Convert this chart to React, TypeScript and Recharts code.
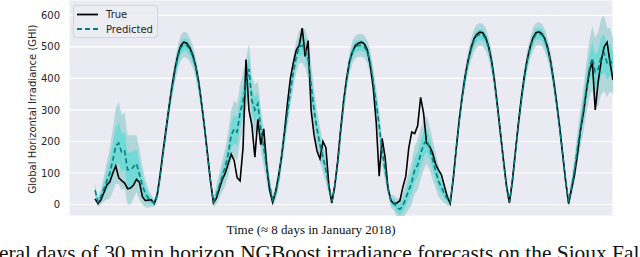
import React from "react";
import { ComposedChart, Area, Line, XAxis, YAxis, CartesianGrid } from "recharts";

// one sample every ~30 min of daylight, 20 steps per day, ~8.75 days
const trueGhi = [
  18, 3, 15, 38, 62, 72, 100, 122, 85, 76, 68, 50, 52, 62, 80, 70, 25, 12, 14, 15,
  3, 30, 95, 170, 240, 310, 375, 430, 475, 505, 515, 512, 498, 475, 440, 390, 320, 245, 160, 75,
  5, 20, 50, 80, 100, 130, 160, 140, 85, 75, 180, 460, 300, 250, 150, 270, 190, 240, 120, 45,
  7, 40, 90, 150, 230, 320, 400, 450, 490, 505, 560, 470, 520, 300, 220, 170, 145, 200, 180, 60,
  5, 60, 140, 240, 330, 400, 455, 485, 505, 512, 515, 510, 490, 440, 370, 260, 90, 210, 150, 50,
  12, 2, 5, 12, 55, 90, 180, 230, 225, 250, 340, 290, 195, 185, 165, 130, 110, 95, 60, 25,
  3, 80, 175, 265, 340, 405, 455, 495, 525, 540, 547, 545, 530, 500, 455, 390, 310, 225, 140, 60,
  5, 75, 165, 255, 335, 405, 460, 500, 530, 545, 548, 542, 525, 495, 450, 390, 320, 245, 160, 75,
  3, 50, 95, 160, 235, 290, 360, 420, 455, 300, 390, 455, 500, 515, 450, 395,
];

const predGhi = [
  45, 8, 25, 50, 75, 100, 140, 185, 195, 165, 170, 110, 110, 120, 130, 95, 60, 35, 20, 12,
  4, 28, 90, 165, 235, 305, 368, 422, 468, 498, 508, 505, 492, 470, 435, 385, 318, 242, 158, 72,
  8, 30, 60, 90, 120, 160, 220, 240, 230, 290, 330, 380, 430, 330, 300, 320, 240, 180, 120, 60,
  15, 35, 80, 150, 220, 290, 360, 420, 470, 500, 505, 495, 460, 380, 300, 240, 190, 150, 110, 55,
  10, 55, 130, 230, 320, 395, 450, 485, 500, 505, 505, 500, 485, 450, 390, 320, 250, 170, 110, 50,
  10, 5, -10, -15, -5, 20, 45, 70, 110, 125, 160, 190, 205, 180, 145, 110, 75, 55, 35, 18,
  8, 78, 170, 262, 338, 402, 452, 490, 520, 535, 540, 538, 525, 496, 452, 388, 308, 222, 138, 58,
  7, 72, 160, 250, 330, 400, 455, 495, 525, 540, 542, 538, 520, 490, 447, 388, 318, 242, 158, 72,
  8, 55, 110, 180, 240, 300, 370, 430, 465, 420, 430, 470, 480, 450, 460, 440,
];

// predicted standard deviation
const predStd = [
  10, 8, 12, 20, 30, 40, 50, 60, 65, 60, 60, 55, 55, 50, 45, 40, 30, 22, 15, 10,
  6, 10, 12, 14, 15, 16, 17, 18, 19, 20, 20, 20, 19, 18, 17, 16, 15, 14, 12, 10,
  8, 15, 20, 25, 30, 35, 40, 45, 45, 45, 45, 40, 40, 40, 40, 35, 35, 30, 25, 15,
  8, 12, 15, 18, 20, 22, 24, 25, 25, 26, 28, 30, 32, 35, 35, 30, 28, 25, 20, 12,
  7, 10, 12, 14, 15, 16, 17, 18, 18, 18, 18, 18, 18, 20, 22, 24, 25, 22, 18, 10,
  10, 12, 15, 18, 20, 25, 30, 35, 38, 40, 40, 40, 38, 35, 32, 28, 25, 20, 15, 10,
  6, 10, 12, 14, 15, 16, 17, 17, 18, 18, 18, 18, 18, 17, 17, 16, 15, 14, 12, 10,
  6, 10, 12, 14, 15, 16, 17, 17, 18, 18, 18, 18, 18, 17, 17, 16, 15, 14, 12, 10,
  8, 15, 20, 25, 30, 35, 40, 45, 50, 55, 58, 60, 60, 55, 50, 45,
];

const xGridTicks = [0, 35, 70, 105, 140];
const yTicks = [0, 100, 200, 300, 400, 500, 600];

const data = trueGhi.map((v, i) => ({
  t: i,
  ghi: v,
  pred: predGhi[i],
  outer: [predGhi[i] - 2 * predStd[i], predGhi[i] + 2 * predStd[i]],
  inner: [predGhi[i] - predStd[i], predGhi[i] + predStd[i]],
}));

const sans = "DejaVu Sans, sans-serif";
const serif = "Liberation Serif, Times New Roman, serif";

const YLabel = (props: any) => {
  const { viewBox } = props;
  const cx = 32;
  const cy = viewBox.y + viewBox.height / 2 + 1;
  return (
    <text
      x={cx}
      y={cy}
      transform={`rotate(-90, ${cx}, ${cy})`}
      textAnchor="middle"
      dominantBaseline="central"
      fontFamily={sans}
      fontSize={10}
      fill="#262626"
    >
      Global Horizontal Irradiance (GHI)
    </text>
  );
};

export default function App() {
  return (
    <div style={{ position: "absolute", left: 0, top: 0, width: 640, height: 257, background: "#fff", overflow: "hidden" }}>
      <ComposedChart width={640} height={257} data={data} margin={{ top: 0, right: 27, bottom: 41, left: 0 }}>
        <CartesianGrid stroke="#ffffff" strokeWidth={1.2} fill="#EAEAF2" />
        <XAxis
          dataKey="t"
          type="number"
          domain={[-8.8, 175]}
          ticks={xGridTicks}
          tick={false}
          tickLine={false}
          axisLine={false}
          height={0}
          allowDataOverflow
        />
        <YAxis
          type="number"
          domain={[-36.5, 649]}
          ticks={yTicks}
          width={69}
          tickSize={0}
          tickMargin={9}
          tickLine={false}
          axisLine={false}
          allowDataOverflow
          tick={{ fontFamily: sans, fontSize: 10, fill: "#262626" }}
          label={<YLabel />}
        />
        <Area dataKey="outer" stroke="none" fill="#a2d2d4" fillOpacity={0.8} isAnimationActive={false} />
        <Area dataKey="inner" stroke="none" fill="#46dad2" fillOpacity={0.6} isAnimationActive={false} />
        <Line dataKey="ghi" stroke="#000000" strokeWidth={1.6} dot={false} isAnimationActive={false} />
        <Line
          dataKey="pred"
          stroke="#008080"
          strokeWidth={1.6}
          strokeDasharray="5 3"
          dot={false}
          isAnimationActive={false}
        />
      </ComposedChart>

      <div
        style={{
          position: "absolute",
          left: 73,
          top: 5,
          width: 83,
          height: 31,
          background: "rgba(236,236,243,0.85)",
          border: "1px solid #d4d4dc",
          borderRadius: 3,
          fontFamily: sans,
          fontSize: 10,
          color: "#262626",
        }}
      >
        <svg width={83} height={31} style={{ position: "absolute", left: 0, top: 0 }}>
          <line x1={3} x2={24} y1={8.5} y2={8.5} stroke="#000" strokeWidth={1.8} />
          <line x1={3} x2={24} y1={23} y2={23} stroke="#008080" strokeWidth={1.8} strokeDasharray="5 3" />
          <text x={32} y={12} fontFamily={sans} fontSize={10} fill="#262626">True</text>
          <text x={32} y={26.5} fontFamily={sans} fontSize={10} fill="#262626">Predicted</text>
        </svg>
      </div>

      <svg width={640} height={257} style={{ position: "absolute", left: 0, top: 0, pointerEvents: "none" }}>
        <text x={311} y={234} textAnchor="middle" fontFamily={serif} fontSize={13} fill="#111">
          Time (≈ 8 days in January 2018)
        </text>
        <text x={-1} y={259.5} fontFamily={serif} fontSize={21.4} fill="#111">
          eral days of 30 min horizon NGBoost irradiance forecasts on the Sioux Falls
        </text>
      </svg>
    </div>
  );
}
